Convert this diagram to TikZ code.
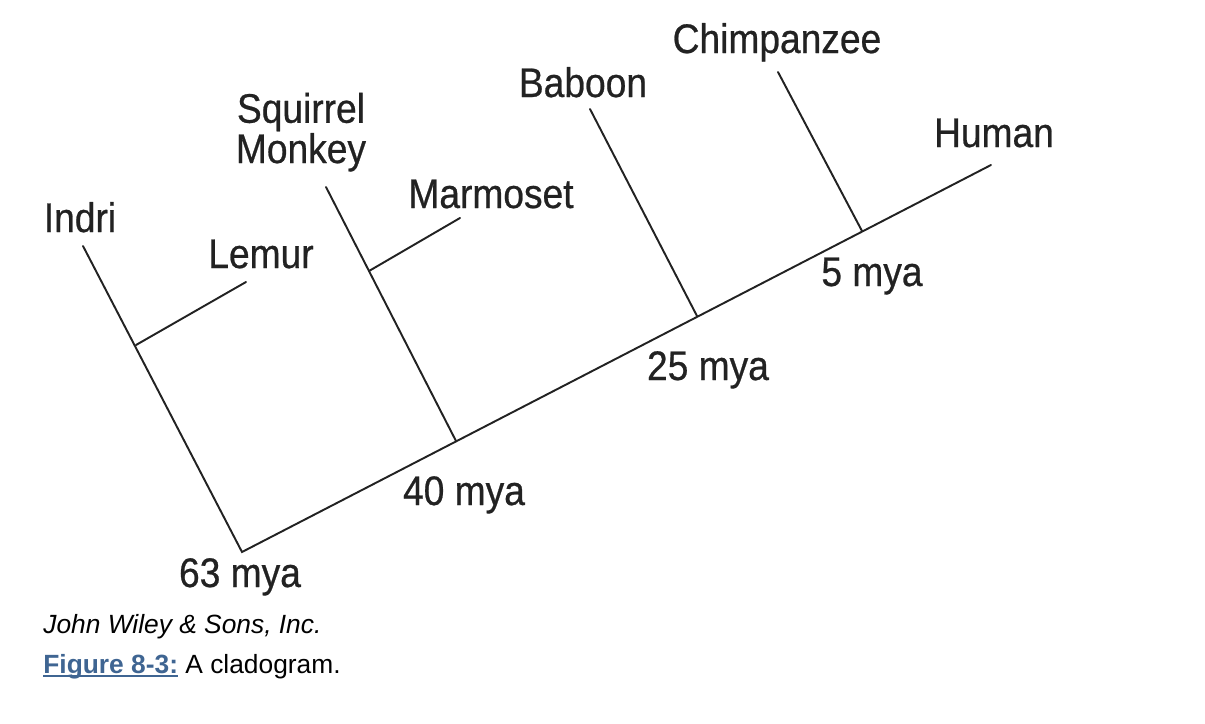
\documentclass[tikz,border=0pt]{standalone}
\usepackage{fontspec}
\setmainfont{Liberation Sans}
\newfontfamily\cladofont[FakeStretch=0.9, FakeBold=0.6]{Liberation Sans}
\usepackage{tikz}
\usetikzlibrary{arrows.meta}
\definecolor{cladInk}{HTML}{222222}
\definecolor{figBlue}{HTML}{3F6592}
\newcommand\figul[1]{\setbox0\hbox{#1}\rlap{\rule[-2.4pt]{\wd0}{1.2pt}}\box0}
\tikzset{
  brn/.style    = {draw=cladInk, line width=1.1pt, line cap=round},
  taxon/.style  = {font=\cladofont\fontsize{23.5}{21.6}\selectfont, text=cladInk,
                   inner sep=0pt, anchor=base, align=center},
  capt/.style   = {font=\fontsize{15}{18}\selectfont, text=black,
                   inner sep=0pt, anchor=base west},
}

\begin{document}
\begin{tikzpicture}[x=0.02cm, y=-0.02cm]
    \useasboundingbox (0,0) rectangle (1205,724);
    % tips and joints of the tree
    \coordinate (root)  at (242,552);
    \coordinate (hum)   at (991,165);
    \coordinate (ind)   at (83,246);
    \coordinate (lemjn) at (136,345);
    \coordinate (lem)   at (246,282);
    \coordinate (sqm)   at (326,187);
    \coordinate (sqjn)  at (456,441);
    \coordinate (marjn) at (369,271);
    \coordinate (mar)   at (460,218);
    \coordinate (bab)   at (590,109);
    \coordinate (babjn) at (697,316);
    \coordinate (chi)   at (778,72);
    \coordinate (chijn) at (862,231);
    \draw[brn] (ind) -- (root) -- (hum);
    \draw[brn] (lemjn) -- (lem);
    \draw[brn] (sqm) -- (sqjn);
    \draw[brn] (marjn) -- (mar);
    \draw[brn] (bab) -- (babjn);
    \draw[brn] (chi) -- (chijn);
    % names of the taxa
    \node[taxon] (indri) at (80,232)  {Indri};
    \node[taxon] (lemur) at (261,268) {Lemur};
    \node[taxon] (squir) at (301,163) {Squirrel\\Monkey};
    \node[taxon] (marmo) at (491,208) {Marmoset};
    \node[taxon] (babon) at (583,97)  {Baboon};
    \node[taxon] (chimp) at (777,53)  {Chimpanzee};
    \node[taxon] (human) at (994,147) {Human};
    % ages of the splits
    \foreach \nm/\x/\y/\t in {m63/240/587/63, m40/464/505/40, m25/708/380/25, m5/872/286/5}{%
      \node[taxon] (\nm) at (\x,\y) {\t\ mya};}
    % caption
    \node[capt] (credit) at (43,633) {\itshape John Wiley \& Sons, Inc.};
    \node[capt] (figcap) at (43,673)
      {\textcolor{figBlue}{\bfseries\figul{Figure 8-3:}} A cladogram.};
  \end{tikzpicture}
\end{document}
